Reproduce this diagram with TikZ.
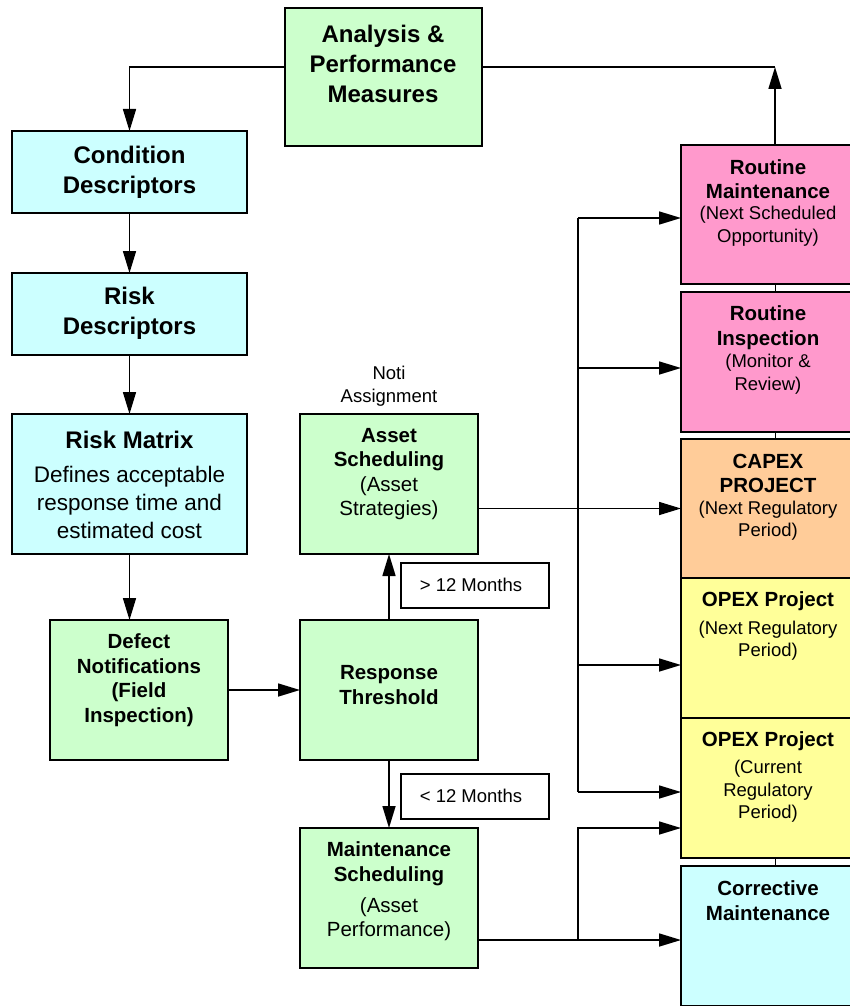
\documentclass[tikz,border=0pt]{standalone}
\usepackage{fontspec}
\setmainfont{Liberation Sans}
\usetikzlibrary{arrows.meta}
\definecolor{cgreen}{HTML}{CCFFCC}
\definecolor{ccyan}{HTML}{CCFFFF}
\definecolor{cpink}{HTML}{FF99CC}
\definecolor{corange}{HTML}{FFCC99}
\definecolor{cyellow}{HTML}{FFFF99}
\newcommand\myfs[2]{\fontsize{#1}{#2}\selectfont}
\tikzset{
  box/.style={draw=black, line width=1.6pt, anchor=north west, inner sep=0pt, outer sep=0pt},
  txt/.style={align=center, inner sep=0pt, text=black},
  arr/.style={line width=1.6pt, -{Triangle[length=22pt,width=13pt]}},
  ln/.style={line width=1.6pt},
  thinln/.style={line width=1pt},
  bigb/.style={txt, font=\myfs{24}{30}\bfseries},
  midb/.style={txt, font=\myfs{20.5}{24.5}\bfseries},
  midn/.style={txt, font=\myfs{20.5}{24.5}},
  smn/.style={txt, font=\myfs{18.5}{22.5}},
}
\begin{document}
\begin{tikzpicture}[x=1pt,y=-1pt]
\useasboundingbox[fill=white] (0,0) rectangle (849,1006);
% left column
\node[box, fill=cgreen, minimum width=197pt, minimum height=138pt] (ana) at (285,8) {};
\node[bigb] (anaT) at (383,64) {Analysis \&\\Performance\\Measures};
\node[box, fill=ccyan, minimum width=235pt, minimum height=82pt] (cond) at (12,131) {};
\node[bigb] (condT) at (129.5,172) {Condition\\Descriptors};
\node[box, fill=ccyan, minimum width=235pt, minimum height=82pt] (riskd) at (12,273) {};
\node[bigb] (riskdT) at (129.5,313) {Risk\\Descriptors};
\node[box, fill=ccyan, minimum width=235pt, minimum height=140pt] (rm) at (12,414) {};
\node[bigb] (rmT1) at (129.5,440) {Risk Matrix};
\node[txt, font=\myfs{22.5}{28}] (rmT2) at (129.5,502) {Defines acceptable\\response time and\\estimated cost};
\node[box, fill=cgreen, minimum width=178pt, minimum height=140pt] (defect) at (50,620) {};
\node[midb] (defectT) at (139,680) {Defect\\Notifications\\(Field\\Inspection)};
% middle column
\node[smn] (noti) at (389,386) {Noti\\Assignment};
\node[box, fill=cgreen, minimum width=178pt, minimum height=140pt] (asset) at (300,414) {};
\node[midn] (assetT) at (389,474) {\textbf{Asset}\\\textbf{Scheduling}\\(Asset\\Strategies)};
\node[box, fill=white, line width=1.2pt, minimum width=148pt, minimum height=45pt] (gt) at (401,563) {};
\node[smn] (gtT) at (471,585) {> 12 Months};
\node[box, fill=cgreen, minimum width=178pt, minimum height=140pt] (resp) at (300,620) {};
\node[midb] (respT) at (389,685) {Response\\Threshold};
\node[box, fill=white, line width=1.2pt, minimum width=148pt, minimum height=45pt] (lt) at (401,774) {};
\node[smn] (ltT) at (471,796) {< 12 Months};
\node[box, fill=cgreen, minimum width=178pt, minimum height=140pt] (ms) at (300,828) {};
\node[midb] (msT1) at (389,863.5) {Maintenance\\Scheduling};
\node[midn] (msT2) at (389,919) {(Asset\\Performance)};
% right column
\node[box, fill=cpink, minimum width=180pt, minimum height=139pt] (rmain) at (681,145) {};
\node[midb] (rmainT1) at (768,179) {Routine\\Maintenance};
\node[smn] (rmainT2) at (768,226) {(Next Scheduled\\Opportunity)};
\node[box, fill=cpink, minimum width=180pt, minimum height=140pt] (rinsp) at (681,292) {};
\node[midb] (rinspT1) at (768,327.5) {Routine\\Inspection};
\node[smn] (rinspT2) at (768,374) {(Monitor \&\\Review)};
\node[box, fill=corange, minimum width=180pt, minimum height=139pt] (capex) at (681,439) {};
\node[midb] (capexT1) at (768,473.5) {CAPEX\\PROJECT};
\node[smn] (capexT2) at (768,520.5) {(Next Regulatory\\Period)};
\node[box, fill=cyellow, minimum width=180pt, minimum height=140pt] (opexn) at (681,578) {};
\node[midb] (opexnT1) at (768,601) {OPEX Project};
\node[smn] (opexnT2) at (768,640.5) {(Next Regulatory\\Period)};
\node[box, fill=cyellow, minimum width=180pt, minimum height=140pt] (opexc) at (681,718) {};
\node[midb] (opexcT1) at (768,741) {OPEX Project};
\node[smn] (opexcT2) at (768,791.5) {(Current\\Regulatory\\Period)};
\node[box, fill=ccyan, minimum width=180pt, minimum height=140pt] (corr) at (681,866) {};
\node[midb] (corrT) at (768,900.5) {Corrective\\Maintenance};
% coordinates
\coordinate (tl) at (129.5,67);
\coordinate (tr) at (775,67);
\coordinate (b1) at (578,218);
\coordinate (b2) at (578,368);
\coordinate (b3) at (578,665);
\coordinate (b4) at (578,792);
\coordinate (c1) at (578,940);
\coordinate (c2) at (578,828);
% connectors
\draw[arr] (ana.west |- tl) -- (tl) -- (cond.north);
\draw[ln] (ana.east |- tr) -- (tr);
\draw[arr] (rmain.north -| tr) -- (tr);
\draw[thinln] (rmain.south -| tr) -- (rinsp.north -| tr);
\draw[thinln] (rinsp.south -| tr) -- (capex.north -| tr);
\draw[thinln] (opexc.south -| tr) -- (corr.north -| tr);
\draw[arr] (cond.south) -- (riskd.north);
\draw[arr] (riskd.south) -- (rm.north);
\draw[arr] (rm.south) -- (rm.south |- defect.north);
\draw[arr] (defect.east) -- (resp.west);
\draw[arr] (resp.north) -- (asset.south);
\draw[arr] (resp.south) -- (ms.north);
\draw[arr] (asset.east |- capex.west) -- (capex.west);
\draw[ln] (b1) -- (b4);
\draw[arr] (b1) -- (b1 -| rmain.west);
\draw[arr] (b2) -- (b2 -| rinsp.west);
\draw[arr] (b3) -- (b3 -| opexn.west);
\draw[arr] (b4) -- (b4 -| opexc.west);
\draw[arr] (ms.east |- c1) -- (c1 -| corr.west);
\draw[arr] (c1) -- (c2) -- (c2 -| opexc.west);
\end{tikzpicture}
\end{document}
